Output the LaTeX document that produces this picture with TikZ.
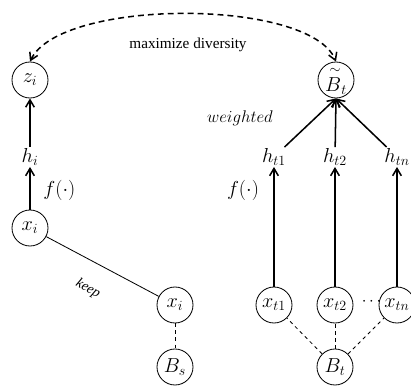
\documentclass[tikz,border=0pt]{standalone}
\usepackage{amsmath}
\usepackage[no-math]{fontspec}
\setmainfont{Liberation Serif}
\usepackage{tikz}
\usetikzlibrary{arrows.meta, calc, positioning}

\begin{document}
\begin{tikzpicture}[x=0.03cm,y=-0.03cm,
    var/.style={circle,draw,line width=0.7pt,minimum size=1.08cm,inner sep=0pt,font=\fontsize{18}{20}\selectfont},
    lab/.style={inner sep=1pt,font=\fontsize{18}{20}\selectfont},
    flow/.style={-{Straight Barb[length=2.2mm,width=2.6mm]},line width=1.3pt},
    link/.style={dashed,line width=0.7pt}]
      \useasboundingbox (0,0) rectangle (411,387);
      % source side
      \node[var] (zi) at (30,80) {$z_i$};
      \node[lab] (hi) at (30,157) {$h_i$};
      \node[var] (xi) at (30,228) {$x_i$};
      \node[var] (xk) at (175,305) {$x_i$};
      \node[var] (Bs) at (175,367) {$B_s$};
      \draw[flow] (xi) -- (hi);
      \draw[flow] (hi) -- (zi);
      \draw[line width=0.7pt] (xi) -- (xk);
      \draw[link] (xk) -- (Bs);
      \node[lab,anchor=west,font=\fontsize{16}{18}\selectfont] (fl) at (42,190) {$f(\cdot)$};
      \node[font=\fontsize{12}{14}\selectfont\itshape,rotate=-30] (keep) at (88,289) {keep};
      % target side
      \node[var] (Bw) at (336,80) {$\overset{\;\scriptstyle\sim}{B}_t$};
      \foreach \n/\x/\s in {1/274/t1,2/335/t2,n/397/tn} {
        \node[var] (xt\n) at (\x,305) {$x_{\s}$};
        \node[lab] (ht\n) at (\x,157) {$h_{\s}$};
        \draw[flow] (xt\n) -- (ht\n);
        \draw[flow] (ht\n) -- (Bw.south);
      }
      \node[var] (Bt) at (335,367) {$B_t$};
      \foreach \n in {1,2,n}
        \draw[link] (Bt) -- (xt\n);
      \node[font=\Large] (dots) at (373,302) {$\cdots$};
      \node[lab,font=\fontsize{16}{18}\selectfont] (fr) at (243,190) {$f(\cdot)$};
      \node[lab,font=\fontsize{14}{16}\selectfont] (wt) at (240,118) {$weighted$};
      % objective
      \draw[{Straight Barb[length=2.2mm,width=2.6mm]}-{Straight Barb[length=2.2mm,width=2.6mm]},dashed,line width=1.3pt,dash pattern=on 5pt off 3.5pt]
        (zi.north) .. controls (60,-2) and (310,-2) .. (Bw.north);
      \node[font=\fontsize{13}{15}\selectfont] (md) at (188,45) {maximize diversity};
\end{tikzpicture}
\end{document}
